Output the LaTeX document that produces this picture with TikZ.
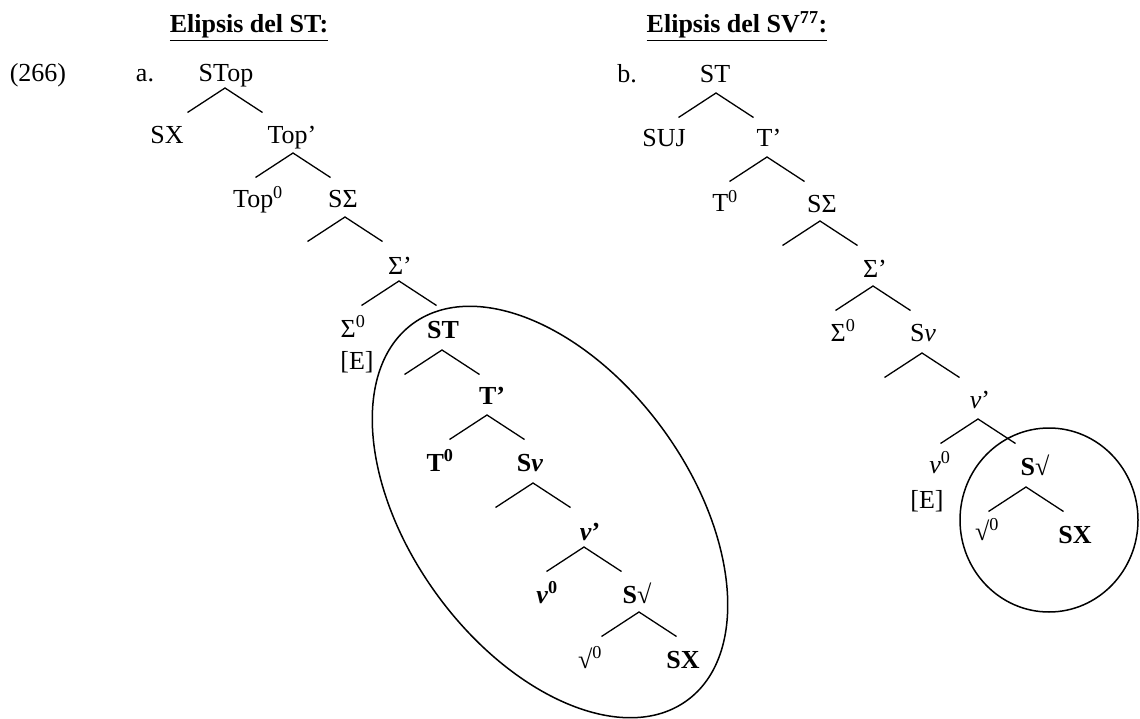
\documentclass[tikz,border=0pt]{standalone}
\usepackage{fontspec}
\setmainfont{Liberation Serif}
\usetikzlibrary{calc}
\newcommand\brnch[2]{%
  \coordinate (#1) at #2;
  \coordinate (#1-l) at ($(#1)+(-37.5,24.5)$);
  \coordinate (#1-r) at ($(#1)+(37.5,24.5)$);
  \draw[edge] (#1-l) -- (#1) -- (#1-r);}
\begin{document}
\begin{tikzpicture}[x=1pt,y=-1pt,
  lbl/.style={anchor=base,inner sep=0pt,font=\fontsize{26}{31}\selectfont},
  edge/.style={line width=1.3pt},
  loop/.style={line width=1.5pt}]
\useasboundingbox (0,0) rectangle (1140,719);
% titles
\node[lbl] (titA) at (249,33) {\textbf{\underline{Elipsis del ST:}}};
\node[lbl] (titB) at (737,33) {\textbf{\underline{Elipsis del SV\textsuperscript{77}:}}};
% tree a
\node[lbl] (n266) at (38,82) {(266)};
\node[lbl] (la) at (145,82) {a.};
\node[lbl] (aSTop) at (226,82) {STop};
\brnch{a1}{(225,88)}
\node[lbl] (aSX) at (167,144) {SX};
\node[lbl] (aTopp) at (292,144) {Top’};
\brnch{a2}{(293,153)}
\node[lbl] (aTop0) at (258,208) {Top\textsuperscript{0}};
\node[lbl] (aSS) at (343,208) {SΣ};
\brnch{a3}{(345,217)}
\node[lbl] (aSp) at (400,275) {Σ’};
\brnch{a4}{(399,281)}
\node[lbl] (aS0) at (353,337) {Σ\textsuperscript{0}};
\node[lbl] (aE) at (357,369) {[E]};
\node[lbl] (aST) at (443,338) {\textbf{ST}};
\brnch{a5}{(442,350)}
\node[lbl] (aTp) at (492,404) {\textbf{T’}};
\brnch{a6}{(487,415)}
\node[lbl] (aT0) at (440,471) {\textbf{T\textsuperscript{0}}};
\node[lbl] (aSv) at (530,471) {\textbf{S\textit{ν}}};
\brnch{a7}{(533,483)}
\node[lbl] (avp) at (590,540) {\textbf{\textit{ν}’}};
\brnch{a8}{(584,547)}
\node[lbl] (av0) at (547,603) {\textbf{\textit{ν}\textsuperscript{0}}};
\node[lbl] (aSr) at (637,603) {\textbf{S}√};
\brnch{a9}{(639,612)}
\node[lbl] (ar0) at (590,668) {√\textsuperscript{0}};
\node[lbl] (aSX2) at (683,668) {\textbf{SX}};
\coordinate (ea) at (550,512);
\draw[loop, rotate around={-54:(ea)}] (ea) ellipse [x radius=233, y radius=140];
% tree b
\node[lbl] (lb) at (627,83) {b.};
\node[lbl] (bST) at (715,83) {ST};
\brnch{b1}{(716,93)}
\node[lbl] (bSUJ) at (664,147) {SUJ};
\node[lbl] (bTp) at (769,147) {T’};
\brnch{b2}{(767,157)}
\node[lbl] (bT0) at (725,212) {T\textsuperscript{0}};
\node[lbl] (bSS) at (822,213) {SΣ};
\brnch{b3}{(820,221)}
\node[lbl] (bSp) at (875,277) {Σ’};
\brnch{b4}{(873,286)}
\node[lbl] (bS0) at (843,341) {Σ\textsuperscript{0}};
\node[lbl] (bSv) at (923,341) {S\textit{ν}};
\brnch{b5}{(922,353)}
\node[lbl] (bvp) at (980,408) {\textit{ν}’};
\brnch{b6}{(978,419)}
\node[lbl] (bv0) at (940,473) {\textit{ν}\textsuperscript{0}};
\node[lbl] (bE) at (927,508) {[E]};
\node[lbl] (bSr) at (1035,475) {\textbf{S}√};
\brnch{b7}{(1026,487)}
\node[lbl] (br0) at (987,540) {√\textsuperscript{0}};
\node[lbl] (bSX) at (1075,543) {\textbf{SX}};
\coordinate (eb) at (1049,520);
\draw[loop] (eb) ellipse [x radius=89, y radius=92];
\end{tikzpicture}
\end{document}
